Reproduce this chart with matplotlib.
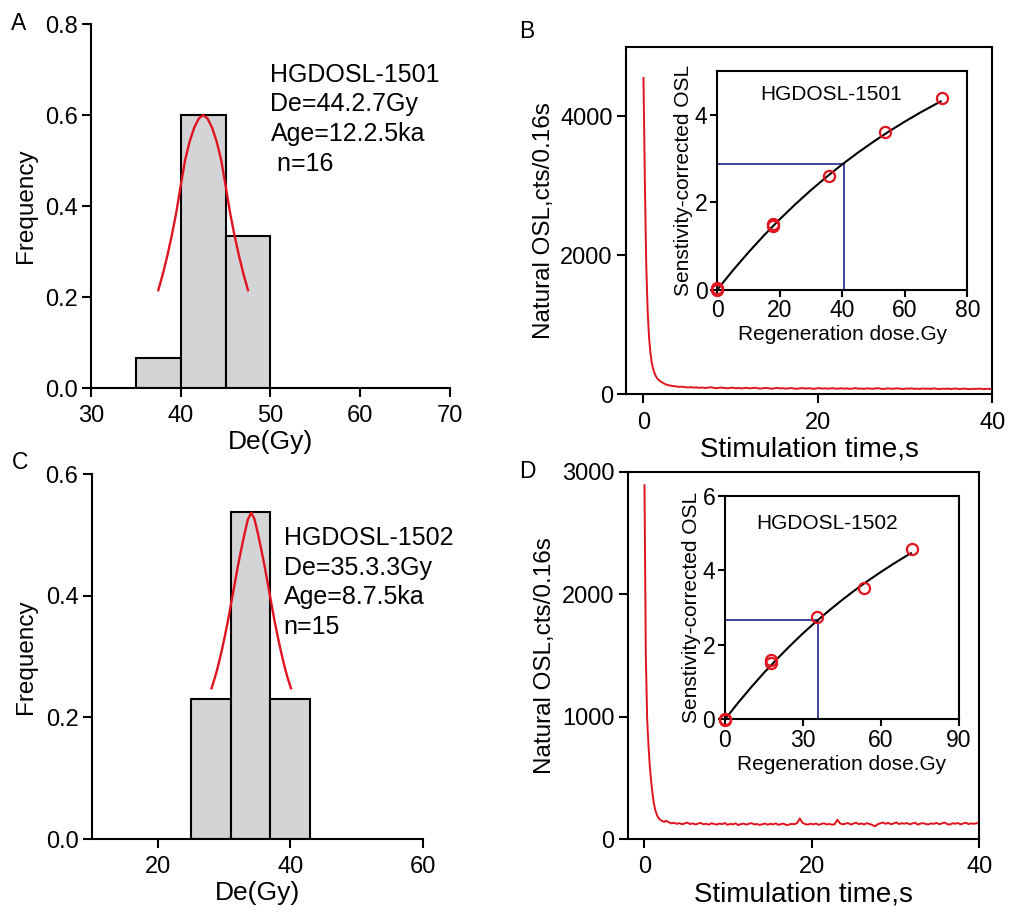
#! /usr/bin/env python
"""
plot.py
"""

import numpy as np
import matplotlib
matplotlib.use('Agg')
import matplotlib.pyplot as plt

plt.rcParams['font.family'] = ['Liberation Sans', 'DejaVu Sans']

RED = '#e0141e'
NAVY = '#23238c'
GREY = '#d4d4d7'

# ---- De histograms
bins_a = [35, 40, 45]
width_a = 5
freq_a = [0.0667, 0.6, 0.3333]
fit_x_a = [37.5, 38.0, 38.5, 39.0, 39.5, 40.0, 40.5, 41.0, 41.5, 42.0, 42.5,
           43.0, 43.5, 44.0, 44.5, 45.0, 45.5, 46.0, 46.5, 47.0, 47.5]
fit_y_a = [0.215, 0.25, 0.29, 0.335, 0.385, 0.445, 0.502, 0.542, 0.572, 0.592,
           0.6, 0.592, 0.572, 0.542, 0.502, 0.445, 0.385, 0.335, 0.29, 0.25,
           0.215]
text_a = ['HGDOSL-1501', 'De=44.2.7Gy', 'Age=12.2.5ka', ' n=16']

bins_c = [25, 31, 37]
width_c = 6
freq_c = [0.2308, 0.5385, 0.2308]
fit_x_c = [28.1, 28.6, 29.1, 29.6, 30.1, 30.6, 31.1, 31.6, 32.1, 32.6, 33.1, 33.6,
           34.1, 34.6, 35.1, 35.6, 36.1, 36.6, 37.1, 37.6, 38.1, 38.6, 39.1, 39.6,
           40.1]
fit_y_c = [0.248, 0.265, 0.285, 0.308, 0.333, 0.36, 0.39, 0.42, 0.45, 0.477, 0.503,
           0.526, 0.537, 0.526, 0.503, 0.477, 0.45, 0.42, 0.39, 0.36, 0.333, 0.308,
           0.285, 0.265, 0.248]
text_c = ['HGDOSL-1502', 'De=35.3.3Gy', 'Age=8.7.5ka', 'n=15']

# ---- natural OSL decay curves (0.16 s channels, then 0.32 s in the tail)
decay_b = [4550, 3050, 1850, 1200, 820, 590, 450, 360, 300, 255, 225, 205,
           188, 175, 163, 152]
tail_b = [142, 130, 122, 116, 111, 106, 109, 102, 98, 103,
          96, 99, 92, 98, 90, 95, 101, 94, 88, 93,
          97, 90, 86, 92, 95, 87, 91, 84, 89, 93,
          85, 90, 94, 86, 82, 88, 91, 85, 80, 87,
          92, 84, 88, 81, 86, 90, 83, 79, 86, 89,
          82, 87, 84, 78, 85, 89, 81, 86, 80, 84,
          88, 79, 83, 87, 80, 85, 78, 84, 89, 81,
          83, 77, 86, 82, 79, 84, 88, 80, 76, 83,
          85, 78, 82, 87, 79, 75, 83, 80, 86, 78,
          81, 76, 84, 79, 82, 77, 85, 80, 74, 81,
          78, 83, 76, 80, 84, 75, 79, 82, 77, 73,
          80, 76, 82, 78, 74, 79, 77, 81]
decay_d = [2890, 1500, 980, 760, 590, 470, 370, 290, 240, 205, 180, 165,
           155, 148, 143, 140]
tail_d = [150, 138, 128, 133, 124, 130, 121, 127, 135, 122,
          128, 119, 126, 132, 120, 125, 117, 129, 123, 118,
          127, 121, 131, 116, 124, 120, 128, 114, 122, 126,
          118, 125, 130, 119, 123, 115, 121, 127, 117, 124,
          120, 128, 116, 122, 126, 113, 119, 124, 121, 131,
          168, 132, 122, 118, 125, 120, 127, 116, 123, 129,
          119, 124, 117, 121, 158, 128, 120, 125, 131, 118,
          126, 134, 121, 127, 119, 130, 123, 116, 103, 120,
          128, 135, 124, 132, 121, 127, 136, 122, 129, 125,
          131, 120, 127, 134, 118, 126, 130, 123, 119, 128,
          124, 132, 121, 127, 135, 122, 118, 129, 125, 131,
          120, 127, 133, 122, 128, 124, 130, 126]

# ---- dose response (insets)
dose_b = [0, 0, 17.7, 17.7, 35.7, 53.7, 71.8]
lx_b = [0, 0.03, 1.49, 1.45, 2.6, 3.6, 4.38]
fit_dose = [0, 5, 10, 15, 20, 25, 30, 35, 40, 45, 50, 55, 60, 65, 70, 71.5]
fit_lx_b = [0, 0.441, 0.855, 1.245, 1.61, 1.954, 2.277, 2.579, 2.865, 3.132,
            3.383, 3.62, 3.841, 4.05, 4.245, 4.30]
de_b, ln_b = 40.5, 2.88

dose_d = [0, 0, 17.7, 17.7, 35.5, 53.6, 71.8]
lx_d = [0, -0.03, 1.59, 1.52, 2.74, 3.54, 4.58]
fit_lx_d = [0, 0.44, 0.856, 1.25, 1.62, 1.974, 2.31, 2.623, 2.92, 3.203,
            3.47, 3.722, 3.96, 4.186, 4.40, 4.46]
de_d, ln_d = 35.9, 2.67


def _ticks(ax, size=17, length=6.5):
    ax.tick_params(direction='out', length=length, width=1.5,
                   labelsize=size, pad=3, top=False, right=False)
    for s in ax.spines.values():
        s.set_linewidth(1.5)


def _hist(ax, bins, width, freq, fx, fy, lines, xlim, xticks, ylim, yticks,
          tx, ty):
    ax.bar(bins, freq, width=width, align='edge', color=GREY,
           edgecolor='k', linewidth=1.5, zorder=2)
    ax.plot(fx, fy, color=RED, lw=1.7, zorder=3)
    ax.set_xlim(*xlim)
    ax.set_ylim(*ylim)
    ax.set_xticks(xticks)
    ax.set_yticks(yticks)
    ax.yaxis.set_major_formatter(matplotlib.ticker.FormatStrFormatter('%.1f'))
    ax.spines['top'].set_visible(False)
    ax.spines['right'].set_visible(False)
    _ticks(ax)
    ax.tick_params(axis='x', pad=6)
    ax.set_ylabel('Frequency', fontsize=17.5, labelpad=6)
    ax.set_xlabel('De(Gy)', fontsize=19, labelpad=2)
    ax.text(tx, ty, '\n'.join(lines), fontsize=18, va='top', ha='left',
            linespacing=1.3)


def _decay(ax, decay, tail, ylim, yticks):
    t = np.concatenate([np.arange(len(decay)) * 0.16,
                        2.56 + np.arange(len(tail)) * 0.32])
    ax.plot(t, list(decay) + list(tail), color=RED, lw=1.4)
    ax.set_xlim(-2, 40)
    ax.set_ylim(*ylim)
    ax.set_xticks([0, 20, 40])
    ax.set_yticks(yticks)
    _ticks(ax)
    ax.tick_params(axis='x', pad=6)
    ax.set_ylabel('Natural OSL,cts/0.16s', fontsize=17.5, labelpad=4)
    ax.set_xlabel('Stimulation time,s', fontsize=20, labelpad=2)


def _inset(ax, dose, lx, fit_lx, de, ln, xlim, xticks, ylim, yticks, name,
           nx, ny):
    ax.plot([0, de, de], [ln, ln, 0], color=NAVY, lw=1.2, zorder=2)
    ax.plot(fit_dose, fit_lx, color='k', lw=1.5, zorder=3)
    ax.plot(dose, lx, 'o', mfc='none', mec=RED, mew=1.6, ms=8, zorder=4,
            clip_on=False)
    ax.set_xlim(*xlim)
    ax.set_ylim(*ylim)
    ax.set_xticks(xticks)
    ax.set_yticks(yticks)
    _ticks(ax, size=16.5, length=5)
    ax.tick_params(pad=2)
    ax.set_xlabel('Regeneration dose.Gy', fontsize=15, labelpad=2)
    ax.set_ylabel('Senstivity-corrected OSL', fontsize=15, labelpad=1)
    ax.text(nx, ny, name, fontsize=15, ha='center', va='center')


fig = plt.figure(figsize=(10.12, 9.21), dpi=100)

ax_a = fig.add_axes([0.0899, 0.5787, 0.3547, 0.3952])
_hist(ax_a, bins_a, width_a, freq_a, fit_x_a, fit_y_a, text_a,
      (30, 70), [30, 40, 50, 60, 70], (0, 0.8), [0, 0.2, 0.4, 0.6, 0.8],
      50.0, 0.715)

ax_c = fig.add_axes([0.0906, 0.0890, 0.3271, 0.3960])
_hist(ax_c, bins_c, width_c, freq_c, fit_x_c, fit_y_c, text_c,
      (10, 60), [20, 40, 60], (0, 0.6), [0, 0.2, 0.4, 0.6],
      39.0, 0.515)

ax_b = fig.add_axes([0.6186, 0.5719, 0.3620, 0.3774])
_decay(ax_b, decay_b, tail_b, (0, 5000), [0, 2000, 4000])

ax_d = fig.add_axes([0.6203, 0.0890, 0.3474, 0.3988])
_decay(ax_d, decay_d, tail_d, (0, 3000), [0, 1000, 2000, 3000])

in_b = fig.add_axes([0.7088, 0.6855, 0.2470, 0.2375])
_inset(in_b, dose_b, lx_b, fit_lx_b, de_b, ln_b, (0, 80), [0, 20, 40, 60, 80],
       (0, 5), [0, 2, 4], 'HGDOSL-1501', 36.3, 4.46)

in_d = fig.add_axes([0.7164, 0.2190, 0.2312, 0.2425])
_inset(in_d, dose_d, lx_d, fit_lx_d, de_d, ln_d, (0, 90), [0, 30, 60, 90],
       (0, 6), [0, 2, 4, 6], 'HGDOSL-1502', 39.1, 5.25)

for letter, x, y in [('A', 19, 24), ('B', 527, 32), ('C', 20, 462),
                     ('D', 527, 471)]:
    fig.text(x / 1012, 1 - y / 921, letter, fontsize=16.5,
             ha='center', va='center')

fig.savefig('out.png', dpi=100)
plt.close(fig)
